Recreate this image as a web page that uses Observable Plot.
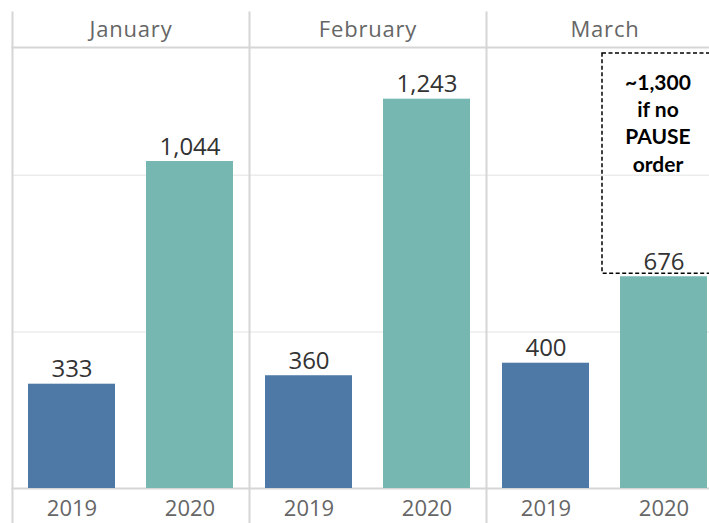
<!DOCTYPE html>
<html>
<head>
<meta charset="utf-8">
<script src="https://cdn.jsdelivr.net/npm/d3@7"></script>
<script src="https://cdn.jsdelivr.net/npm/@observablehq/plot@0.6"></script>
<style>
  html, body { margin: 0; padding: 0; background: #fff; overflow: hidden; }
  #chart svg { overflow: hidden; }
  #chart g[aria-label="fx-axis tick label"] text { letter-spacing: 0.8px; }
</style>
</head>
<body>
<div id="chart"></div>
<script>
const months = ["January", "February", "March"];
const years = ["2019", "2020"];
const values2019 = [333, 360, 400];
const values2020 = [1044, 1243, 676];
const gridValues = [500, 1000];
const yColors = ["#4e79a7", "#76b7b2"];

const noteMonth = ["March"];
const noteYear = ["2020"];
const noteLow = [686];
const noteHigh = [1389];
const noteText = ["~1,300\nif no\nPAUSE\norder"];

const data = months.flatMap((m, i) => [
  {month: m, year: years[0], value: values2019[i]},
  {month: m, year: years[1], value: values2020[i]}
]);
const notes = noteMonth.map((m, i) => ({month: m, year: noteYear[i], low: noteLow[i], high: noteHigh[i], label: noteText[i]}));

const fmt = d3.format(",");
const lineColor = "#d6d6d6";

const chart = Plot.plot({
  width: 709,
  height: 523,
  marginTop: 47,
  marginBottom: 35,
  marginLeft: 11,
  marginRight: 0,
  style: {fontFamily: "'Open Sans', sans-serif", background: "#fff"},
  fx: {domain: months, range: [11, 724], padding: 0, label: null},
  x: {domain: years, paddingInner: 0.26, paddingOuter: 0.13, label: null},
  y: {domain: [0, 1408], axis: null},
  color: {domain: years, range: yColors},
  marks: [
    Plot.ruleY(gridValues, {stroke: "#ececec", strokeWidth: 1.5}),
    Plot.frame({anchor: "left", stroke: lineColor, strokeWidth: 2, insetTop: -35, insetBottom: -35}),
    Plot.frame({anchor: "top", stroke: lineColor, strokeWidth: 2}),
    Plot.frame({anchor: "bottom", stroke: lineColor, strokeWidth: 2}),
    Plot.barY(data, {fx: "month", x: "year", y: "value", fill: "year"}),
    Plot.text(data, {fx: "month", x: "year", y: "value", text: d => fmt(d.value), lineAnchor: "bottom", dy: -7, fontSize: 24, fill: "#333"}),
    Plot.barY(notes, {fx: "month", x: "year", y1: "low", y2: "high", fill: "none", stroke: "#000", strokeWidth: 1.5, strokeDasharray: "4,2.5", insetLeft: -18, insetRight: -18}),
    Plot.text(notes, {fx: "month", x: "year", y: "high", text: "label", lineAnchor: "top", dy: 17, dx: -6, fontSize: 21, fontWeight: "bold", fontFamily: "Lato, sans-serif", lineHeight: 1.3, fill: "#000"}),
    Plot.axisFx({anchor: "top", tickSize: 0, tickPadding: 11, fontSize: 22, fill: "#666", label: null}),
    Plot.axisX({anchor: "bottom", tickSize: 0, tickPadding: 12, fontSize: 22, fill: "#666", label: null})
  ]
});
document.getElementById("chart").appendChild(chart);
</script>
</body>
</html>
